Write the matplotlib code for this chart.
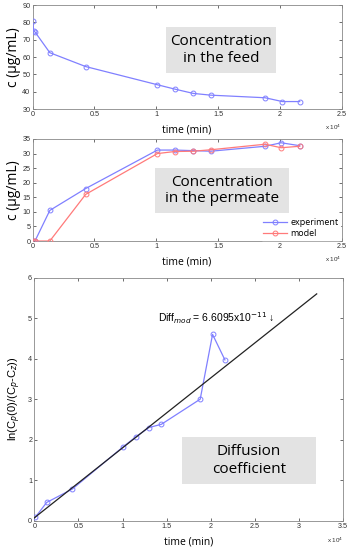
import matplotlib
matplotlib.use("Agg")
import matplotlib.pyplot as plt
from matplotlib.ticker import FixedLocator
from matplotlib.patches import Rectangle

# ---- data (time in units of 1e4 min) ----
t_feed = [0.0, 0.01, 0.02, 0.14, 0.43, 1.01, 1.15, 1.30, 1.44, 1.88, 2.02, 2.16]
c_feed = [81.0, 75.0, 74.5, 62.5, 54.5, 44.0, 41.5, 39.0, 38.0, 36.5, 34.3, 34.3]

t_perm = [0.0, 0.02, 0.14, 0.43, 1.01, 1.15, 1.30, 1.44, 1.88, 2.01, 2.16]
c_exp = [0.0, 0.0, 10.5, 18.0, 31.2, 31.2, 31.0, 30.8, 32.5, 33.7, 32.7]
c_model = [0.0, 0.0, 0.0, 16.0, 30.0, 30.7, 30.8, 31.3, 33.2, 32.0, 32.5]

t_diff = [0.01, 0.14, 0.43, 1.01, 1.15, 1.30, 1.44, 1.88, 2.02, 2.16]
ln_diff = [0.08, 0.45, 0.78, 1.83, 2.07, 2.30, 2.38, 3.00, 4.60, 3.97]
fit_t = [0.0, 3.2]
fit_y = [0.07, 5.60]

BLUE = "#8080ff"
RED = "#ff7a7a"
BOXC = "#e3e3e3"
TICKF = "Liberation Sans"
LABF = "Open Sans"

fig = plt.figure(figsize=(3.51, 5.5), dpi=100)

def style(ax, xmax, xticks, yticks, ylim, offy):
    ax.set_xlim(0, xmax)
    ax.set_ylim(*ylim)
    ax.xaxis.set_major_locator(FixedLocator(xticks))
    ax.yaxis.set_major_locator(FixedLocator(yticks))
    ax.set_xticklabels([("%g" % v) for v in xticks], fontsize=5.2, family=TICKF)
    ax.set_yticklabels([("%g" % v) for v in yticks], fontsize=5.2, family=TICKF)
    ax.tick_params(direction="in", length=2.5, width=0.5, top=True, right=True,
                   pad=1.5, colors="#333333")
    for s in ax.spines.values():
        s.set_linewidth(0.6)
        s.set_color("#888888")
    ax.set_xlabel("time (min)", fontsize=7.5, family=LABF, labelpad=4.5)
    ax.text(1.0, offy, r"x 10$^4$", transform=ax.transAxes, ha="right",
            va="top", fontsize=4.5, family=TICKF, color="#333333")

def box(ax, x0, x1, y0, y1, txt, ls=1.15):
    ax.add_patch(Rectangle((x0, y0), x1 - x0, y1 - y0, transform=ax.transAxes,
                           fc=BOXC, ec="none", zorder=1))
    ax.text((x0 + x1) / 2, (y0 + y1) / 2, txt, transform=ax.transAxes,
            ha="center", va="center", fontsize=11, family=LABF,
            linespacing=ls, zorder=2)

# panel 1
ax1 = fig.add_axes([0.0926, 0.8018, 0.881, 0.189])
ax1.plot(t_feed, c_feed, "-o", color=BLUE, mfc="none", ms=3.5, lw=0.9, mew=0.7,
         zorder=3)
style(ax1, 2.5, [0, 0.5, 1, 1.5, 2, 2.5], [30, 40, 50, 60, 70, 80, 90], (30, 90), -0.13)
ax1.set_ylabel("c (µg/mL)", fontsize=10, family=LABF, labelpad=1)
box(ax1, 0.432, 0.787, 0.346, 0.788, "Concentration\nin the feed")

# panel 2
ax2 = fig.add_axes([0.0926, 0.5618, 0.881, 0.1855])
ax2.plot(t_perm, c_exp, "-o", color=BLUE, mfc="none", ms=3.5, lw=0.9, mew=0.7,
         label="experiment", zorder=3)
ax2.plot(t_perm, c_model, "-o", color=RED, mfc="none", ms=3.5, lw=0.9, mew=0.7,
         label="model", zorder=3)
style(ax2, 2.5, [0, 0.5, 1, 1.5, 2, 2.5], [0, 5, 10, 15, 20, 25, 30, 35], (0, 35), -0.13)
ax2.set_ylabel("c (µg/mL)", fontsize=10, family=LABF, labelpad=1)
box(ax2, 0.395, 0.828, 0.275, 0.716, "Concentration\nin the permeate")
ax2.legend(loc="lower right", frameon=True, fancybox=False, edgecolor="white",
           framealpha=1, prop={"family": LABF, "size": 6.5}, handlelength=2.6,
           borderpad=0.2, labelspacing=0.2, handletextpad=0.4,
           borderaxespad=0.15)

# panel 3
ax3 = fig.add_axes([0.0977, 0.0533, 0.880, 0.4418])
ax3.plot(t_diff, ln_diff, "-o", color=BLUE, mfc="none", ms=3.5, lw=0.9, mew=0.7,
         zorder=3)
ax3.plot(fit_t, fit_y, "-", color="#222222", lw=0.9, zorder=3)
style(ax3, 3.5, [0, 0.5, 1, 1.5, 2, 2.5, 3, 3.5], [0, 1, 2, 3, 4, 5, 6], (0, 6), -0.062)
ax3.set_ylabel(r"ln(C$_p$(0)/(C$_p$-C$_z$))", fontsize=8, family=TICKF, labelpad=4)
ax3.text(1.40, 5.0, r"Diff$_{mod}$ = 6.6095x10$^{-11}$ ↓", fontsize=7.5,
         family=TICKF, ha="left", va="center")
box(ax3, 0.478, 0.912, 0.151, 0.344, "Diffusion\ncoefficient", ls=1.25)

fig.savefig("out.png", dpi=100)
